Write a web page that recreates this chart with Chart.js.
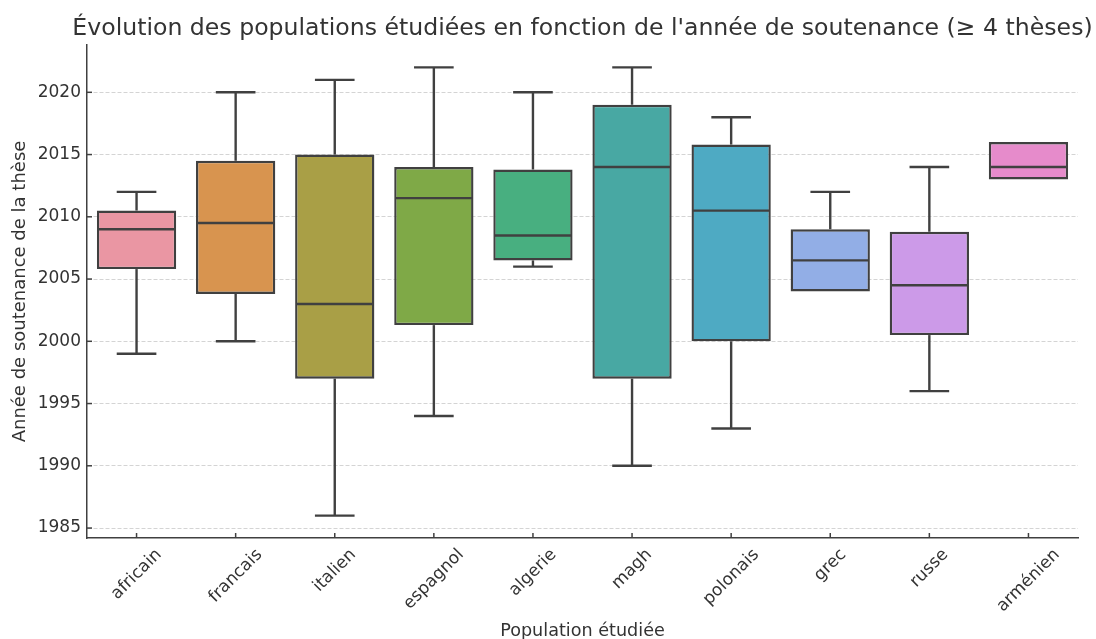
<!DOCTYPE html>
<html>
<head>
<meta charset="utf-8">
<script src="https://cdn.jsdelivr.net/npm/chart.js@4"></script>
<style>
  html, body { margin: 0; background: #fff; }
  #wrap { width: 1096px; height: 639px; }
</style>
</head>
<body>
<div id="wrap"><canvas id="myChart"></canvas></div>
<script>
const populations = ["africain", "francais", "italien", "espagnol", "algerie", "magh", "polonais", "grec", "russe", "arménien"];
const whiskerLow  = [1999, 2000, 1986, 1994, 2006, 1990, 1993, 2004, 1996, 2013];
const q1          = [2005.8, 2003.8, 1997, 2001.3, 2006.5, 1997, 2000, 2004, 2000.5, 2013];
const median      = [2009, 2009.5, 2003, 2011.5, 2008.5, 2014, 2010.5, 2006.5, 2004.5, 2014];
const q3          = [2010.5, 2014.5, 2015, 2014, 2013.8, 2019, 2015.8, 2009, 2008.8, 2016];
const whiskerHigh = [2012, 2020, 2021, 2022, 2020, 2022, 2018, 2012, 2014, 2016];
const yTicks = [1985, 1990, 1995, 2000, 2005, 2010, 2015, 2020];

const boxColors = ["#ea96a3", "#d8944f", "#a99f46", "#7fa947", "#48af80", "#48a8a3", "#4eaac3", "#92aee6", "#cc9ae8", "#e68bcb"];
const lineColor = "#404040";
const textColor = "#333333";
const fontFamily = "'DejaVu Sans', sans-serif";

// whiskers, caps and medians on top of the floating bars
const boxPlugin = {
  id: "boxPlugin",
  afterDatasetsDraw(chart) {
    const ctx = chart.ctx;
    const y = chart.scales.y;
    const bars = chart.getDatasetMeta(0).data;
    ctx.save();
    ctx.strokeStyle = lineColor;
    ctx.lineWidth = 2.4;
    const line = (x1, y1, x2, y2) => {
      ctx.beginPath();
      ctx.moveTo(x1, y1);
      ctx.lineTo(x2, y2);
      ctx.stroke();
    };
    bars.forEach((bar, i) => {
      const x = bar.x;
      const half = bar.width / 2;
      const cap = bar.width / 4;
      const yHigh = y.getPixelForValue(whiskerHigh[i]);
      const yLow = y.getPixelForValue(whiskerLow[i]);
      const yQ1 = y.getPixelForValue(q1[i]);
      const yQ3 = y.getPixelForValue(q3[i]);
      const yMed = y.getPixelForValue(median[i]);
      if (whiskerHigh[i] > q3[i]) {
        line(x, yQ3, x, yHigh);
        line(x - cap, yHigh, x + cap, yHigh);
      }
      if (whiskerLow[i] < q1[i]) {
        line(x, yQ1, x, yLow);
        line(x - cap, yLow, x + cap, yLow);
      }
      line(x - half + 1, yMed, x + half - 1, yMed);
    });
    ctx.restore();
  },
  afterDraw(chart) {
    const ctx = chart.ctx;
    const area = chart.chartArea;
    const x = chart.scales.x;
    const y = chart.scales.y;
    ctx.save();
    // inward tick marks
    ctx.strokeStyle = lineColor;
    ctx.lineWidth = 1.5;
    yTicks.forEach(v => {
      const py = y.getPixelForValue(v);
      ctx.beginPath();
      ctx.moveTo(area.left, py);
      ctx.lineTo(area.left + 5, py);
      ctx.stroke();
    });
    populations.forEach((p, i) => {
      const px = x.getPixelForValue(i);
      ctx.beginPath();
      ctx.moveTo(px, area.bottom);
      ctx.lineTo(px, area.bottom - 5);
      ctx.stroke();
    });
    // rotated category labels, centred under each tick
    const size = 17;
    ctx.font = size + "px " + fontFamily;
    ctx.fillStyle = textColor;
    ctx.textAlign = "center";
    ctx.textBaseline = "middle";
    populations.forEach((p, i) => {
      const px = x.getPixelForValue(i);
      const w = ctx.measureText(p).width;
      const side = (w + size * 1.17) * Math.SQRT1_2;
      ctx.save();
      ctx.translate(px, area.bottom + 7 + side / 2);
      ctx.rotate(-Math.PI / 4);
      ctx.fillText(p, 0, 0);
      ctx.restore();
    });
    // title centred over the plot area
    ctx.font = "23.6px " + fontFamily;
    ctx.textBaseline = "middle";
    ctx.fillText("Évolution des populations étudiées en fonction de l'année de soutenance (≥ 4 thèses)", (area.left + area.right) / 2, 29);
    ctx.restore();
  }
};

const myChart = document.getElementById("myChart").getContext("2d");
const boxChart = new Chart(myChart, {
  type: "bar",
  data: {
    labels: populations,
    datasets: [
      {
        label: "Année de soutenance",
        data: populations.map((p, i) => [q1[i], q3[i]]),
        backgroundColor: boxColors,
        borderColor: lineColor,
        borderWidth: 2.4,
        borderSkipped: false,
        barPercentage: 0.8,
        categoryPercentage: 1,
      },
    ],
  },
  options: {
    responsive: true,
    maintainAspectRatio: false,
    animation: false,
    layout: { padding: { top: 45, right: 18, left: 0, bottom: 0 } },
    plugins: {
      legend: { display: false },
      tooltip: { enabled: false },
      title: { display: false },
    },
    scales: {
      x: {
        offset: true,
        grid: { display: false, offset: false },
        border: { display: true, color: lineColor, width: 1.5 },
        ticks: { display: false },
        title: {
          display: true,
          text: "Population étudiée",
          color: textColor,
          font: { family: fontFamily, size: 17.6 },
          padding: { top: 0, bottom: -3 },
        },
        afterFit: s => { s.height = 101; },
      },
      y: {
        min: 1984.2,
        max: 2023.8,
        z: 1,
        grid: { color: "#d4d4d4", lineWidth: 1, drawTicks: false },
        border: { display: true, color: lineColor, width: 1.5, dash: [4, 2] },
        afterBuildTicks: s => { s.ticks = yTicks.map(v => ({ value: v })); },
        ticks: {
          color: textColor,
          font: { family: fontFamily, size: 17 },
          padding: 6,
          callback: v => String(v),
        },
        title: {
          display: true,
          text: "Année de soutenance de la thèse",
          color: textColor,
          font: { family: fontFamily, size: 18 },
          padding: { top: 10, bottom: 0 },
        },
        afterFit: s => { s.width = 87; },
      },
    },
  },
  plugins: [boxPlugin],
});
</script>
</body>
</html>
